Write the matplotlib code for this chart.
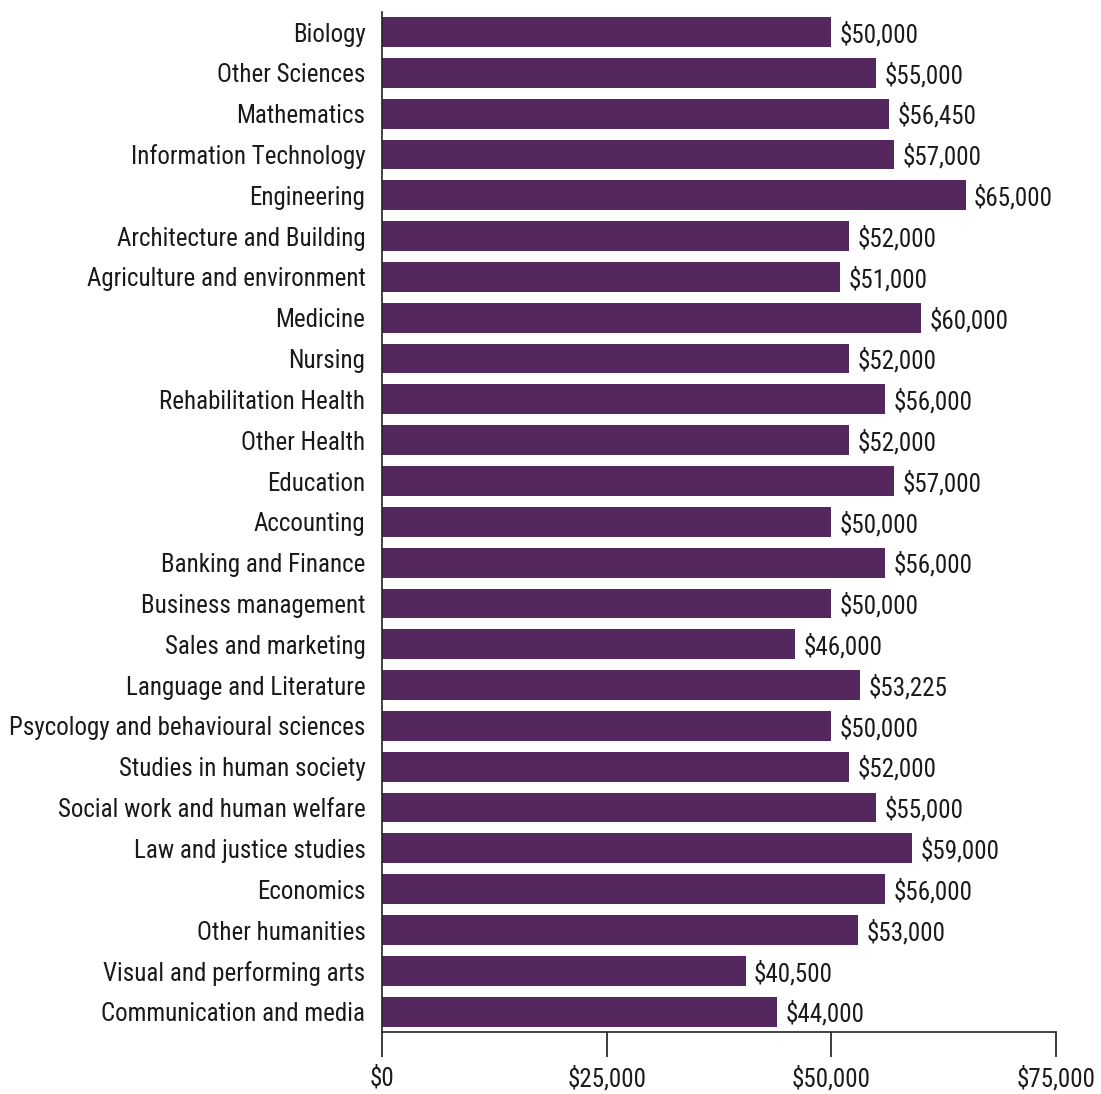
import matplotlib.pyplot as plt
from matplotlib.ticker import FuncFormatter

plt.rcParams['font.family'] = ['Roboto Condensed', 'IBM Plex Sans Condensed', 'DejaVu Sans']

# kierunki studiów i mediana wynagrodzenia
fields = ['Biology', 'Other Sciences', 'Mathematics', 'Information Technology',
          'Engineering', 'Architecture and Building', 'Agriculture and environment',
          'Medicine', 'Nursing', 'Rehabilitation Health', 'Other Health',
          'Education', 'Accounting', 'Banking and Finance', 'Business management',
          'Sales and marketing', 'Language and Literature',
          'Psycology and behavioural sciences', 'Studies in human society',
          'Social work and human welfare', 'Law and justice studies', 'Economics',
          'Other humanities', 'Visual and performing arts', 'Communication and media']
salaries = [50000, 55000, 56450, 57000, 65000, 52000, 51000, 60000, 52000, 56000,
            52000, 57000, 50000, 56000, 50000, 46000, 53225, 50000, 52000, 55000,
            59000, 56000, 53000, 40500, 44000]
x_ticks = [0, 25000, 50000, 75000]

fig = plt.figure(figsize=(11.01, 10.94), dpi=100)
ax = fig.add_axes([0.347, 0.057, 0.612, 0.932])

pos = list(range(len(fields)))
ax.barh(pos, salaries, height=0.73, color='#54275f')

for y, v in zip(pos, salaries):
    ax.text(v + 900, y, '${:,}'.format(v), va='center_baseline', ha='left',
            fontsize=18, color='#1a1a1a')

ax.set_yticks(pos)
ax.set_yticklabels(fields, fontsize=18, color='#1a1a1a')
ax.set_ylim(len(fields) - 0.51, -0.49)
ax.set_xlim(0, 75000)
ax.set_xticks(x_ticks)
ax.xaxis.set_major_formatter(FuncFormatter(lambda v, p: '${:,.0f}'.format(v)))
ax.tick_params(axis='x', labelsize=18, length=18, width=1.2, pad=7,
               colors='#1a1a1a', direction='out')
ax.tick_params(axis='y', length=0, pad=12)

for s in ['top', 'right']:
    ax.spines[s].set_visible(False)
ax.spines['left'].set_color('#222222')
ax.spines['bottom'].set_color('#222222')
ax.spines['left'].set_linewidth(1.2)
ax.spines['bottom'].set_linewidth(1.2)

fig.savefig('out.png', dpi=100)
